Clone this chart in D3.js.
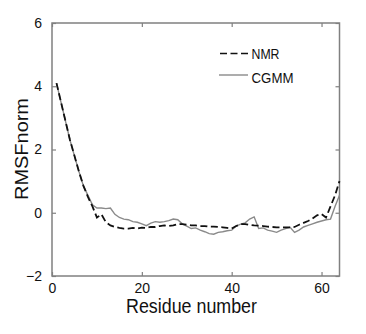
<!DOCTYPE html>
<html><head><meta charset="utf-8">
<script src="https://cdn.jsdelivr.net/npm/d3@7"></script>
<style>body{margin:0;background:#fff}svg{display:block}text{font-family:"Liberation Sans",Arial,sans-serif;fill:#111}</style>
</head><body><svg id="c" width="366" height="334"></svg>
<script>
const residues = d3.range(1, 65);
const nmr = [4.1,3.5,2.9,2.3,1.8,1.3,0.85,0.5,0.2,-0.15,-0.05,-0.3,-0.4,-0.45,-0.48,-0.5,-0.5,-0.48,-0.5,-0.47,-0.48,-0.45,-0.45,-0.42,-0.4,-0.42,-0.4,-0.36,-0.36,-0.38,-0.4,-0.4,-0.42,-0.42,-0.44,-0.44,-0.45,-0.46,-0.48,-0.5,-0.42,-0.36,-0.36,-0.38,-0.4,-0.41,-0.42,-0.44,-0.45,-0.46,-0.46,-0.46,-0.46,-0.45,-0.38,-0.32,-0.26,-0.18,-0.08,-0.04,-0.15,0.2,0.55,1.0];
const cgmm = [4.1,3.5,2.9,2.3,1.8,1.3,0.85,0.55,0.25,0.15,0.15,0.13,0.15,-0.05,-0.15,-0.2,-0.22,-0.28,-0.3,-0.35,-0.41,-0.33,-0.28,-0.3,-0.28,-0.25,-0.2,-0.22,-0.35,-0.42,-0.5,-0.48,-0.55,-0.6,-0.66,-0.68,-0.62,-0.6,-0.57,-0.55,-0.42,-0.36,-0.32,-0.2,-0.13,-0.5,-0.48,-0.55,-0.58,-0.62,-0.55,-0.5,-0.46,-0.62,-0.55,-0.45,-0.4,-0.35,-0.3,-0.26,-0.22,-0.2,0.2,0.55];
const xTicks = [0,20,40,60];
const yTicks = [-2,0,2,4,6];
const seriesNames = ["NMR","CGMM"];

const svg = d3.select("#c");
const x = d3.scaleLinear().domain([0,64]).range([52,339.5]);
const y = d3.scaleLinear().domain([-2,6]).range([276,23]);
const axisColor = "#808080";

// frame
svg.append("rect").attr("x",x(0)).attr("y",y(6)).attr("width",x(64)-x(0)).attr("height",y(-2)-y(6))
  .attr("fill","none").attr("stroke",axisColor).attr("stroke-width",1.5);

function styleAxis(g){ g.select(".domain").remove(); g.selectAll(".tick line").attr("stroke",axisColor).attr("stroke-width",1.2);
  g.selectAll(".tick text").style("font-size","14px").attr("fill","#111"); }

svg.append("g").attr("transform",`translate(0,${y(-2)})`).call(d3.axisBottom(x).tickValues(xTicks).tickSizeInner(-4).tickPadding(7).tickFormat(d3.format("d"))).call(styleAxis);
svg.append("g").attr("transform",`translate(0,${y(6)})`).call(d3.axisTop(x).tickValues(xTicks).tickSizeInner(-4).tickFormat("")).call(styleAxis);
svg.append("g").attr("transform",`translate(${x(0)},0)`).call(d3.axisLeft(y).tickValues(yTicks).tickSizeInner(-4).tickPadding(10).tickFormat(d3.format("d"))).call(styleAxis);
svg.append("g").attr("transform",`translate(${x(64)},0)`).call(d3.axisRight(y).tickValues(yTicks).tickSizeInner(-4).tickFormat("")).call(styleAxis);

const line = d3.line().x((d,i)=>x(residues[i])).y(d=>y(d));
svg.append("path").datum(cgmm).attr("d",line).attr("fill","none").attr("stroke","#8a8a8a").attr("stroke-width",1.4);
svg.append("path").datum(nmr).attr("d",line).attr("fill","none").attr("stroke","#111").attr("stroke-width",1.8).attr("stroke-dasharray","7,3.5");

// legend
const lg = svg.append("g");
lg.append("line").attr("x1",220).attr("x2",248).attr("y1",53.5).attr("y2",53.5).attr("stroke","#111").attr("stroke-width",1.6).attr("stroke-dasharray","7,3.5");
lg.append("text").attr("x",251.5).attr("y",59).style("font-size","15px").attr("textLength",28).attr("lengthAdjust","spacingAndGlyphs").text(seriesNames[0]);
lg.append("line").attr("x1",219).attr("x2",248).attr("y1",75).attr("y2",75).attr("stroke","#8a8a8a").attr("stroke-width",1.4);
lg.append("text").attr("x",251.5).attr("y",83).style("font-size","15px").attr("textLength",42).attr("lengthAdjust","spacingAndGlyphs").text(seriesNames[1]);

// titles
svg.append("text").attr("x",126).attr("y",313).style("font-size","20px").attr("textLength",131).attr("lengthAdjust","spacingAndGlyphs").text("Residue number");
svg.append("text").attr("transform","translate(28,200) rotate(-90)").style("font-size","19px").attr("textLength",102).attr("lengthAdjust","spacingAndGlyphs").text("RMSFnorm");
</script></body></html>
